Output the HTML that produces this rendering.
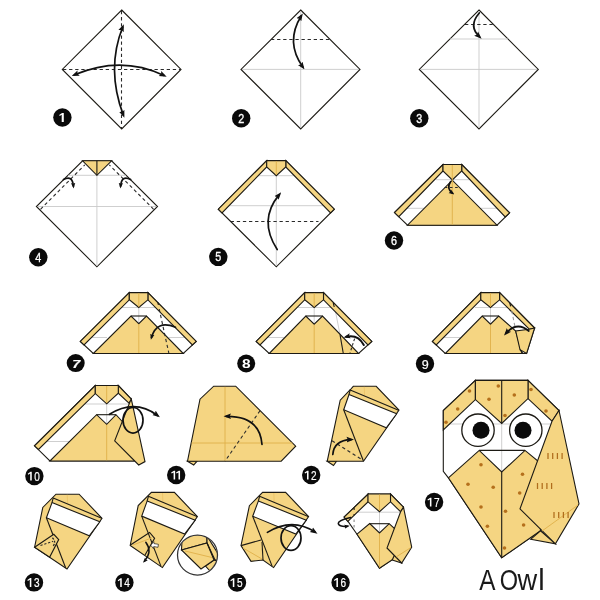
<!DOCTYPE html>
<html>
<head>
<meta charset="utf-8">
<title>How to make an origami owl</title>
<style>
html,body{margin:0;padding:0;background:#fff;}
body{width:600px;height:600px;overflow:hidden;font-family:"Liberation Sans",sans-serif;}
svg{display:block;will-change:transform;}
.o{fill:#F5D582;stroke:#1c1a14;stroke-width:1.1;stroke-linejoin:miter;}
.w{fill:#fff;stroke:#1c1a14;stroke-width:1.1;stroke-linejoin:miter;}
.l{fill:none;stroke:#1c1a14;stroke-width:1.1;}
.g{fill:none;stroke:#c9c9c9;stroke-width:0.9;}
.c{fill:none;stroke:#e0b04a;stroke-width:0.9;}
.d{fill:none;stroke:#2a2a2a;stroke-width:1.1;stroke-dasharray:3.3 2.8;}
.a{fill:none;stroke:#111;stroke-width:1.7;stroke-linecap:round;}
.b{fill:#0a0a0a;}
.n{fill:#fff;font-family:"Liberation Sans",sans-serif;font-weight:normal;font-size:12px;text-anchor:middle;stroke:#fff;stroke-width:0.32;}
.dot{fill:#b5701c;}
.fd{fill:none;stroke:#b06d1c;stroke-width:1.25;}
</style>
</head>
<body>
<svg width="600" height="600" viewBox="0 0 600 600">
<defs>
<marker id="ah" viewBox="0 0 10 10" refX="6" refY="5" markerWidth="4.4" markerHeight="4.4" orient="auto-start-reverse" markerUnits="strokeWidth">
<path d="M0,1.2 L10,5 L0,8.8 L1.8,5 Z" fill="#111"/>
</marker>
<marker id="ahs" viewBox="0 0 10 10" refX="6" refY="5" markerWidth="3.4" markerHeight="3.4" orient="auto-start-reverse" markerUnits="strokeWidth">
<path d="M0,1.2 L10,5 L0,8.8 L1.8,5 Z" fill="#111"/>
</marker>
</defs>

<!-- STEP 1 -->
<g id="s1">
<polygon class="w" points="121.7,10 181,69.4 121.7,129 62.3,69.4"/>
<line class="d" x1="63" y1="69.5" x2="180" y2="69.5"/>
<line class="d" x1="121.5" y1="11" x2="121.5" y2="128"/>
<path class="a" d="M122.7,27 Q106,69 123.3,115" marker-start="url(#ah)" marker-end="url(#ah)"/>
<path class="a" d="M74.5,74.8 Q121,55 164,75.4" marker-start="url(#ah)" marker-end="url(#ah)"/>
</g>

<!-- STEP 2 -->
<g id="s2">
<polygon class="w" points="300.7,10 360,69.4 300.7,129 241,69.4"/>
<line class="g" x1="242" y1="69.4" x2="359" y2="69.4"/>
<line class="g" x1="300.7" y1="11" x2="300.7" y2="128"/>
<line class="d" x1="271" y1="39.5" x2="330" y2="39.5"/>
<path class="a" d="M301.2,16 Q285,42 302.8,67" marker-start="url(#ah)" marker-end="url(#ah)"/>
</g>

<!-- STEP 3 -->
<g id="s3">
<polygon class="w" points="479,10 538.3,69.4 479,129 419.3,69.4"/>
<line class="g" x1="420" y1="69.4" x2="537" y2="69.4"/>
<line class="g" x1="479" y1="11" x2="479" y2="128"/>
<line class="g" x1="450" y1="39" x2="508" y2="39"/>
<line class="d" x1="465" y1="24.5" x2="493.5" y2="24.5"/>
<path class="a" d="M479.3,13 Q468,26 479.4,36.6" marker-end="url(#ah)"/>
</g>

<!-- STEPS 4+ appended below -->
<!-- STEP 4 -->
<g id="s4">
<polygon class="w" points="82.6,160.8 111.6,160.8 157.5,206.5 96.9,266.8 36.4,206.5"/>
<line class="g" x1="37.5" y1="206.5" x2="156.5" y2="206.5"/>
<line class="g" x1="96.9" y1="175" x2="96.9" y2="266"/>
<line class="g" x1="68" y1="175.3" x2="126" y2="175.3"/>
<polygon class="o" points="82.6,160.8 111.6,160.8 96.9,175.3"/>
<line class="l" x1="96.9" y1="160.8" x2="96.9" y2="175.3"/>
<line class="d" x1="40.5" y1="209.3" x2="84.8" y2="164.9"/>
<line class="d" x1="153.6" y1="209.3" x2="109.3" y2="164.9"/>
<path class="a" d="M63.5,179.6 Q72.5,174.5 73.4,186.3" marker-end="url(#ahs)"/>
<path class="a" d="M130.6,179.6 Q121.5,174.5 120.6,186.3" marker-end="url(#ahs)"/>
</g>

<!-- STEP 5 -->
<g id="s5">
<polygon class="w" points="266.7,160.6 285.8,160.6 334.3,209.2 276.3,266.8 218.3,209.2"/>
<line class="g" x1="224.5" y1="205.7" x2="328" y2="205.7"/>
<line class="g" x1="276.3" y1="175.7" x2="276.3" y2="266"/>
<line class="g" x1="258" y1="175.7" x2="295" y2="175.7"/>
<polygon class="o" points="266.7,160.6 218.3,209.2 222,212.9 266.7,167"/>
<polygon class="o" points="285.8,160.6 334.3,209.2 330.6,212.9 285.8,167"/>
<polygon class="o" points="266.7,160.6 285.8,160.6 285.8,167 276.3,175.7 266.7,167"/>
<line class="c" x1="276.3" y1="161.2" x2="276.3" y2="175"/>
<line class="d" x1="230.7" y1="221.5" x2="318.5" y2="221.5"/>
<path class="a" d="M277.2,249.5 Q258,220 279.3,194.6" marker-end="url(#ah)"/>
</g>

<!-- STEP 6 -->
<g id="s6">
<polygon class="w" points="443,164.5 461.7,164.5 509.6,212.8 497,225.2 407.5,225.2 394.5,212.6"/>
<line class="g" x1="436" y1="179.7" x2="469" y2="179.7"/>
<line class="g" x1="405" y1="208.3" x2="424" y2="208.3"/>
<line class="g" x1="481" y1="208.3" x2="500" y2="208.3"/>
<polygon class="o" points="443,164.5 394.5,212.6 398.8,216.7 443,171"/>
<polygon class="o" points="461.7,164.5 509.6,212.8 505.2,217 461.7,171"/>
<polygon class="o" points="443,164.5 461.7,164.5 461.7,171 452.3,180 443,171"/>
<polygon class="o" points="407.5,225.2 497,225.2 452.3,180.2"/>
<line class="c" x1="452.3" y1="165" x2="452.3" y2="224.6"/>
<line class="d" x1="444.7" y1="187.5" x2="459" y2="187.5" style="stroke-dasharray:2.6 2.6"/>
<path class="a" d="M450.7,181.6 Q446,188.5 452.5,193.2" marker-end="url(#ahs)"/>
</g>
<!-- STEP 7 -->
<g id="s7">
<polygon class="w" points="129.3,292.6 147.9,292.6 196.2,341.4 183.3,353.5 93.3,353.5 80.3,341.4"/>
<line class="g" x1="122" y1="307.5" x2="155.5" y2="307.5"/>
<line class="g" x1="138.8" y1="307.5" x2="138.8" y2="323"/>
<line class="g" x1="88" y1="337.5" x2="107" y2="337.5"/>
<line class="g" x1="168.5" y1="337.5" x2="186" y2="337.5"/>
<polygon class="o" points="129.3,292.6 80.3,341.4 84,345 129.3,299.8"/>
<polygon class="o" points="147.9,292.6 196.2,341.4 192.4,345 147.9,299.8"/>
<polygon class="o" points="129.3,292.6 147.9,292.6 147.9,299.8 138.8,307.5 129.3,299.8"/>
<polygon class="o" points="93.3,353.5 183.3,353.5 146.5,316 138.8,323.7 131,316"/>
<line class="l" x1="131" y1="316" x2="146.5" y2="316"/>
<line class="c" x1="138.8" y1="293.2" x2="138.8" y2="307"/>
<line class="c" x1="138.8" y1="324.2" x2="138.8" y2="353"/>
<line class="l" x1="157.7" y1="302" x2="158.4" y2="305"/>
<line class="d" x1="159.2" y1="309" x2="168.8" y2="353"/>
<path class="a" d="M175.5,327.3 Q156.5,319.5 151.5,337.5" marker-end="url(#ahs)"/>
</g>

<!-- STEP 8 -->
<g id="s8">
<polygon class="w" points="304.7,292.6 323.5,292.6 371.8,341.4 358.6,353.5 269.2,353.5 256.2,341.4"/>
<line class="g" x1="297.5" y1="307.5" x2="331.5" y2="307.5"/>
<line class="g" x1="314.2" y1="307.5" x2="314.2" y2="323.5"/>
<line class="g" x1="263.5" y1="337.5" x2="284" y2="337.5"/>
<line class="g" x1="334.2" y1="305" x2="340" y2="334.5"/>
<polygon class="o" points="304.7,292.6 256.2,341.4 260,345 304.7,299.8"/>
<polygon class="o" points="323.5,292.6 371.8,341.4 368,345 323.5,299.8"/>
<polygon class="o" points="304.7,292.6 323.5,292.6 323.5,299.8 314.2,307.5 304.7,299.8"/>
<polygon class="o" points="269.2,353.5 358.6,353.5 322.5,316 314.2,324.2 305.8,316"/>
<line class="l" x1="305.8" y1="316" x2="322.5" y2="316"/>
<line class="c" x1="314.2" y1="293.2" x2="314.2" y2="307"/>
<line class="c" x1="314.2" y1="324.8" x2="314.2" y2="353"/>
<line class="l" x1="340" y1="334.5" x2="343.3" y2="353.5"/>
<line class="l" x1="333.2" y1="302.6" x2="334.2" y2="307"/>
<line class="d" x1="354.6" y1="338.6" x2="350" y2="353" style="stroke-dasharray:2.6 2.2"/>
<path class="a" d="M363.8,345 Q358,334 346.2,336.8" marker-end="url(#ahs)" style="stroke-width:2"/>
</g>

<!-- STEP 9 -->
<g id="s9">
<polygon class="w" points="480.8,292.6 499.6,292.6 534.6,328 526.6,353.5 445.3,353.5 432.4,341.4"/>
<line class="g" x1="475" y1="307.5" x2="507.5" y2="307.5"/>
<line class="g" x1="490.5" y1="307.5" x2="490.5" y2="323.5"/>
<line class="g" x1="440" y1="337.5" x2="460" y2="337.5"/>
<polygon class="o" points="480.8,292.6 432.4,341.4 436.2,345 480.8,299.8"/>
<polygon class="o" points="499.6,292.6 534.6,328 529.3,329.2 499.6,299.8"/>
<polygon class="o" points="480.8,292.6 499.6,292.6 499.6,299.8 490.5,307.5 480.8,299.8"/>
<polygon class="o" points="445.3,353.5 522,353.5 515.7,331 498.7,316 490.5,324.2 482.2,316"/>
<line class="l" x1="482.2" y1="316" x2="498.7" y2="316"/>
<line class="c" x1="490.5" y1="293.2" x2="490.5" y2="307"/>
<line class="c" x1="490.5" y1="324.8" x2="490.5" y2="353"/>
<polygon class="o" points="534.6,328 526.6,353.5 520,349.7 515.7,331 529.3,329.2"/>
<line class="l" x1="520" y1="349.7" x2="523" y2="353.5"/>
<line class="l" x1="509.8" y1="303" x2="510.6" y2="306.4"/>
<line class="d" x1="511.8" y1="311" x2="515" y2="327" style="stroke:#9a9a9a"/>
<path class="a" d="M528.8,331 Q517,321 506,333.3" marker-end="url(#ah)"/>
</g>

<!-- STEP 10 -->
<g id="s10">
<polygon class="w" points="95.3,385.5 118.3,385.5 131.3,399.2 134,461 49.9,461 34.5,445.8"/>
<line class="g" x1="85" y1="404" x2="129" y2="404"/>
<line class="g" x1="106.7" y1="403.3" x2="106.7" y2="424"/>
<line class="g" x1="47" y1="441.5" x2="70" y2="441.5"/>
<polygon class="o" points="95.3,385.5 34.5,445.8 38.5,449.5 95.3,393.6"/>
<polygon class="o" points="118.3,385.5 131.3,399.2 129,403.2 118.3,393.2"/>
<polygon class="o" points="95.3,385.5 118.3,385.5 118.3,393.2 106.7,403.8 95.3,393.6"/>
<polygon class="o" points="49.9,461 134.5,461 122.5,421.7 116,414.7 106.7,424.3 96.6,414.7"/>
<line class="l" x1="96.6" y1="414.7" x2="116" y2="414.7"/>
<line class="c" x1="106.7" y1="386" x2="106.7" y2="402.8"/>
<line class="c" x1="106.7" y1="425" x2="106.7" y2="460.2"/>
<polygon class="o" points="131.3,399.2 145,461.6 138.7,465 114.7,440.8 130,401.7"/>
<ellipse class="a" cx="133" cy="420.3" rx="10" ry="12.8"/>
<path class="a" d="M109.5,414.3 Q135,398.5 157.5,415.5" marker-end="url(#ah)"/>
</g>

<!-- STEP 11 -->
<g id="s11">
<polygon class="o" points="187.5,461.2 193.7,465 197,461.2"/>
<polygon class="o" points="213.7,386.2 235.7,386.2 295.7,446.2 281.2,461.2 187.5,461.2 200,399.2"/>
<line class="c" x1="225" y1="386.8" x2="225" y2="460.6"/>
<line class="c" x1="191.5" y1="443" x2="292.5" y2="443"/>
<line class="d" x1="260" y1="410.7" x2="225" y2="461.2"/>
<path class="a" d="M262,444.5 Q260,416 226.5,416.3" marker-end="url(#ah)"/>
</g>

<!-- STEP 12 -->
<g id="s12">
<polygon class="o" points="327.2,461.3 333.5,465.5 336.5,461.3"/>
<polygon class="o" points="353.3,386.3 376.2,386.3 399,410 363.5,461.3 327.2,461.3 340.2,400.2 350.5,389.5"/>
<line class="c" x1="364.2" y1="386.8" x2="364.6" y2="395.5" style="stroke:#ecc468"/>
<polyline class="l" points="349,394.6 350.2,389.9 398.6,410.2"/>
<polygon class="w" points="349,394.6 396.7,413.8 386.3,427.8 343.7,409.8"/>
<line class="l" x1="343.7" y1="409.8" x2="363.5" y2="461.3"/>
<line class="d" x1="332" y1="440.7" x2="362" y2="459.6"/>
<path class="a" d="M332.8,454.5 Q334,440 351,439.6" marker-end="url(#ah)"/>
</g>

<!-- STEP 13 -->
<g id="s13">
<polygon class="o" points="56,494.2 79.1,494.2 102,518.3 67,569 34.6,547.2 42.8,507.4"/>
<line class="c" x1="67.2" y1="494.8" x2="67.6" y2="503.5" style="stroke:#ecc468"/>
<polyline class="l" points="52,502.6 53.2,497.9 101.7,518.2"/>
<polygon class="w" points="52,502.6 99.8,521.8 89.3,535.8 46.4,517.8"/>
<line class="l" x1="46.4" y1="517.8" x2="65.7" y2="568"/>
<polygon class="o" points="34.6,547.2 53.8,534.3 58.7,539.6 49.7,557.1"/>
<path class="d" d="M40.5,545.4 L53,541.3" style="stroke-dasharray:2.2 1.8"/>
<path class="d" d="M52.4,537.8 Q56.3,541.5 53.2,546" style="stroke-dasharray:2 1.4;stroke-width:1.4"/>
</g>
<!-- STEP 14 -->
<g id="s14">
<polygon class="o" points="151.4,492.4 174.4,492.4 197.4,516.6 162.4,567.6 130.2,545.4 138.2,505.6"/>
<line class="c" x1="162.5" y1="493" x2="162.9" y2="501.7" style="stroke:#ecc468"/>
<polyline class="l" points="147.2,500.9 148.4,496.3 197,516.6"/>
<polygon class="w" points="147.2,500.9 195.2,520.2 184.6,534.1 141.7,516.1"/>
<line class="l" x1="141.7" y1="516.1" x2="161" y2="566.4"/>
<polyline class="l" points="130.4,545 149.6,532.5 154.6,538.3 145,555"/>
<line class="c" x1="133" y1="545" x2="152" y2="537.8"/>
<path d="M150.8,545.2 L153.8,541.6 L154,543.6 L158.4,544.3 L158,547.3 L153.8,546.6 L153.4,548.6 Z" fill="#fff" stroke="#1c1a14" stroke-width="0.7"/>
<path class="a" d="M145.8,542.3 Q152.8,551.5 144.4,561.3" marker-end="url(#ahs)" style="stroke-width:1.5"/>
<clipPath id="mag"><circle cx="197.5" cy="555" r="19.6"/></clipPath>
<circle cx="197.5" cy="555" r="20" fill="#fff"/>
<g clip-path="url(#mag)">
<polygon class="o" points="181.5,550 182,540 195,530 207,535 207,543"/>
<polygon class="o" points="207,536 222,560 214,560 207,543"/>
<polygon class="o" points="205.5,566 214,560 218,561 210,571"/>
<polygon class="o" points="181.5,550 207,543 214,560 201,569"/>
<line class="c" x1="185" y1="551" x2="212" y2="557.5"/>
<line class="l" x1="207" y1="543" x2="215.5" y2="561"/>
</g>
<circle cx="197.5" cy="555" r="20" fill="none" stroke="#333" stroke-width="1.25"/>
</g>

<!-- STEP 15 -->
<g id="s15">
<polygon class="o" points="262.6,492.4 285.6,492.4 308.6,516.6 273.6,567.6 263,560 251,561.4 241,545.6 249.4,505.7"/>
<line class="c" x1="273.8" y1="493" x2="274.2" y2="501.7" style="stroke:#ecc468"/>
<polyline class="l" points="258.4,500.9 259.6,496.3 308.2,516.6"/>
<polygon class="w" points="258.4,500.9 306.3,520.2 295.8,534.1 252.7,516.2"/>
<line class="l" x1="252.7" y1="516.2" x2="272.2" y2="566.4"/>
<line class="l" x1="241" y1="545.6" x2="261" y2="540"/>
<line class="l" x1="262" y1="542" x2="263" y2="560"/>
<line class="c" x1="243" y1="548" x2="262" y2="559"/>
<ellipse class="a" cx="291" cy="538" rx="10" ry="12.4"/>
<path class="a" d="M267.4,532.4 Q292,517 315,532" marker-end="url(#ah)"/>
</g>

<!-- STEP 16 -->
<g id="s16">
<polygon class="w" points="368.2,494 390.5,494 403.5,507.2 396,557 379.5,568.2 357,534.2 348.2,521.7 344.1,517.1"/>
<line class="g" x1="357.8" y1="512.2" x2="400" y2="512.2"/>
<line class="g" x1="379.5" y1="511.7" x2="379.5" y2="533"/>
<polygon class="o" points="368.2,494 344.1,517.1 347.8,521.4 368.2,501.7"/>
<polygon class="o" points="390.5,494 403.5,507.2 400.5,511.7 390.5,501.8"/>
<polygon class="o" points="368,494 390.5,494 390.5,501.8 379.5,511.7 368,501.8"/>
<polygon class="o" points="357,534.2 369.7,523.5 379.5,533 389.2,523.7 394.5,528.5 396.5,557 379.5,568.2"/>
<line class="l" x1="369.7" y1="523.7" x2="389.2" y2="523.7"/>
<line class="c" x1="379.5" y1="494.6" x2="379.5" y2="511"/>
<line class="c" x1="379.5" y1="534" x2="379.5" y2="567.5"/>
<polygon class="o" points="392.2,560 401.7,563 396,552"/>
<polygon class="o" points="403.5,507.2 411.7,547.2 401.7,563 387,548 400.5,512"/>
<line class="c" x1="396" y1="557" x2="411" y2="547.5"/>
<path d="M354.1,507.8 v2.2 M354.1,514 v1.2" class="l"/>
<path d="M354.1,519.5 v2.6 M354.1,525 v2.6" class="l" style="stroke:#9a9a9a;stroke-width:1.3"/>
<path class="a" d="M350.7,517.5 C342,519.5 338,521.5 338.3,523.5 C338.6,526 343,527 347.6,526.2" marker-end="url(#ahs)" style="stroke-width:1.6"/>
</g>
<!-- STEP 17 -->
<g id="s17">
<polygon class="w" points="475.4,380.4 528,380.4 559,410.5 540.5,530.8 501.7,557.7 448.4,477.8 443.3,471.3 443.3,410.5"/>
<line class="g" x1="444" y1="424" x2="552" y2="424"/>
<line class="g" x1="501.7" y1="423.4" x2="501.7" y2="472"/>
<polygon class="o" points="475.4,380.4 443.3,410.5 443.3,430 475.4,399.6"/>
<polygon class="o" points="528,380.4 559,410.5 552,421.2 528,398.6"/>
<polygon class="o" points="475.4,380.4 528,380.4 528,398.6 501.7,423.4 475.4,399.6"/>
<line class="l" x1="501.7" y1="380.4" x2="501.7" y2="423.4"/>
<polygon class="o" points="448.4,477.8 479.2,450.4 501.7,472 525,450.4 538.5,461.5 540.5,530.8 501.7,557.7"/>
<line class="l" x1="479.2" y1="450.4" x2="525" y2="450.4"/>
<line class="l" x1="501.7" y1="472" x2="501.7" y2="557.7"/>
<polygon class="o" points="530.6,539.3 555.4,543.8 540.5,530.8"/>
<polygon class="o" points="559,410.5 579,504 555.4,543.8 520,508.8 552,421.2"/>
<line class="c" x1="542" y1="531" x2="578" y2="505"/>
<circle cx="478" cy="430.2" r="16.2" fill="#fff" stroke="#1c1a14" stroke-width="1.3"/>
<circle cx="525.8" cy="430.2" r="16.2" fill="#fff" stroke="#1c1a14" stroke-width="1.3"/>
<circle cx="481" cy="430.2" r="8.5" fill="#0a0a0a"/>
<circle cx="523" cy="430.2" r="8.5" fill="#0a0a0a"/>
<g class="dot">
<circle cx="469.5" cy="391" r="1.8"/><circle cx="457.7" cy="409" r="1.8"/><circle cx="446" cy="422.3" r="1.8"/>
<circle cx="498.3" cy="386" r="1.8"/><circle cx="489" cy="399.3" r="1.8"/>
<circle cx="514.3" cy="395" r="1.8"/><circle cx="505" cy="415.5" r="1.8"/>
<circle cx="531" cy="389.5" r="1.8"/><circle cx="546" cy="411" r="1.8"/>
<circle cx="481" cy="464.7" r="1.8"/><circle cx="468" cy="484.3" r="1.8"/><circle cx="493.2" cy="487.3" r="1.8"/>
<circle cx="481" cy="507" r="1.8"/><circle cx="487.4" cy="526.3" r="1.8"/>
<circle cx="522.5" cy="474.3" r="1.8"/><circle cx="519.7" cy="493" r="1.8"/>
<circle cx="505.5" cy="511.3" r="1.8"/><circle cx="523.6" cy="525" r="1.8"/><circle cx="504.5" cy="548" r="1.8"/>
</g>
<g class="fd">
<path d="M548,453 v6 M552.7,453 v6 M557.4,453 v6 M562.1,453 v6"/>
<path d="M537.5,483 v6 M542.2,483 v6 M546.9,483 v6 M551.6,483 v6"/>
<path d="M554,512 v6 M558.7,512 v6 M563.4,512 v6 M568.1,512 v6"/>
</g>
</g>

<!-- BADGES -->
<g id="badges">
<circle class="b" cx="62.4" cy="117.5" r="9.2"/><path fill="#fff" d="M61.70,122.00 L61.70,114.80 L59.72,115.97 L59.18,114.89 L62.06,113.00 L63.80,113.00 L63.80,122.00 Z"/>
<circle class="b" cx="241.2" cy="118.3" r="9.2"/><text class="n" x="241.2" y="122.7" textLength="6.0" lengthAdjust="spacingAndGlyphs">2</text>
<circle class="b" cx="419.3" cy="118.3" r="9.2"/><text class="n" x="419.3" y="122.7" textLength="6.0" lengthAdjust="spacingAndGlyphs">3</text>
<circle class="b" cx="38.3" cy="257.3" r="9.2"/><text class="n" x="38.3" y="261.7" textLength="6.0" lengthAdjust="spacingAndGlyphs">4</text>
<circle class="b" cx="218.3" cy="256.9" r="9.2"/><text class="n" x="218.3" y="261.3" textLength="6.0" lengthAdjust="spacingAndGlyphs">5</text>
<circle class="b" cx="394.0" cy="240.5" r="9.2"/><text class="n" x="394.0" y="244.9" textLength="6.0" lengthAdjust="spacingAndGlyphs">6</text>
<circle class="b" cx="75.7" cy="363.1" r="9"/><text class="n" x="76.3" y="367.9" textLength="8" lengthAdjust="spacingAndGlyphs" style="font-weight:bold;font-style:italic;font-size:11.6px;stroke-width:0.2">7</text>
<circle class="b" cx="246.2" cy="363.5" r="9"/><text class="n" x="246.2" y="367.8" textLength="8.6" lengthAdjust="spacingAndGlyphs" style="font-weight:bold;font-size:12px;stroke:none">8</text>
<circle class="b" cx="425" cy="363.7" r="9.2"/><text class="n" x="425.2" y="368.6" textLength="7" lengthAdjust="spacingAndGlyphs" style="font-size:13.2px;stroke-width:0.2">9</text>
<circle class="b" cx="34.4" cy="476.1" r="9.2"/><path fill="#fff" d="M30.20,480.60 L30.20,473.56 L28.26,474.70 L27.74,473.65 L30.55,471.80 L31.75,471.80 L31.75,480.60 Z"/><text class="n" x="37.1" y="480.6" textLength="5.6" lengthAdjust="spacingAndGlyphs" style="stroke-width:0.2">0</text>
<circle class="b" cx="176.2" cy="475.0" r="9.2"/><path fill="#fff" d="M173.60,479.50 L173.60,472.46 L171.66,473.60 L171.14,472.55 L173.95,470.70 L175.15,470.70 L175.15,479.50 Z"/><path fill="#fff" d="M178.50,479.50 L178.50,472.46 L176.56,473.60 L176.04,472.55 L178.85,470.70 L180.05,470.70 L180.05,479.50 Z"/>
<circle class="b" cx="311.2" cy="475.0" r="9.2"/><path fill="#fff" d="M307.00,479.50 L307.00,472.46 L305.06,473.60 L304.54,472.55 L307.35,470.70 L308.55,470.70 L308.55,479.50 Z"/><text class="n" x="313.9" y="479.5" textLength="5.6" lengthAdjust="spacingAndGlyphs" style="stroke-width:0.2">2</text>
<circle class="b" cx="34.0" cy="582.4" r="9.2"/><path fill="#fff" d="M29.80,586.90 L29.80,579.86 L27.86,581.00 L27.34,579.95 L30.15,578.10 L31.35,578.10 L31.35,586.90 Z"/><text class="n" x="36.7" y="586.9" textLength="5.6" lengthAdjust="spacingAndGlyphs" style="stroke-width:0.2">3</text>
<circle class="b" cx="124.4" cy="582.6" r="9.2"/><path fill="#fff" d="M120.20,587.10 L120.20,580.06 L118.26,581.20 L117.74,580.15 L120.55,578.30 L121.75,578.30 L121.75,587.10 Z"/><text class="n" x="127.1" y="587.1" textLength="5.6" lengthAdjust="spacingAndGlyphs" style="stroke-width:0.2">4</text>
<circle class="b" cx="237.0" cy="582.6" r="9.2"/><path fill="#fff" d="M232.80,587.10 L232.80,580.06 L230.86,581.20 L230.34,580.15 L233.15,578.30 L234.35,578.30 L234.35,587.10 Z"/><text class="n" x="239.7" y="587.1" textLength="5.6" lengthAdjust="spacingAndGlyphs" style="stroke-width:0.2">5</text>
<circle class="b" cx="340.6" cy="582.4" r="9.2"/><path fill="#fff" d="M336.40,586.90 L336.40,579.86 L334.46,581.00 L333.94,579.95 L336.75,578.10 L337.95,578.10 L337.95,586.90 Z"/><text class="n" x="343.3" y="586.9" textLength="5.6" lengthAdjust="spacingAndGlyphs" style="stroke-width:0.2">6</text>
<circle class="b" cx="434.1" cy="502.0" r="9.2"/><path fill="#fff" d="M429.90,506.50 L429.90,499.46 L427.96,500.60 L427.44,499.55 L430.25,497.70 L431.45,497.70 L431.45,506.50 Z"/><text class="n" x="436.8" y="506.5" textLength="5.6" lengthAdjust="spacingAndGlyphs" style="stroke-width:0.2">7</text>
</g>

<!-- TITLE -->
<g font-family="Liberation Sans, sans-serif" font-size="30.4" fill="#1a1a1a">
<text transform="translate(479.3,590) scale(0.80,1)">A</text>
<text transform="translate(499.7,590) scale(0.775,1)">O</text>
<text transform="translate(517.6,590) scale(0.895,1)">w</text>
<text transform="translate(538.2,590) scale(0.95,1)">l</text>
</g>

</svg>
</body>
</html>
